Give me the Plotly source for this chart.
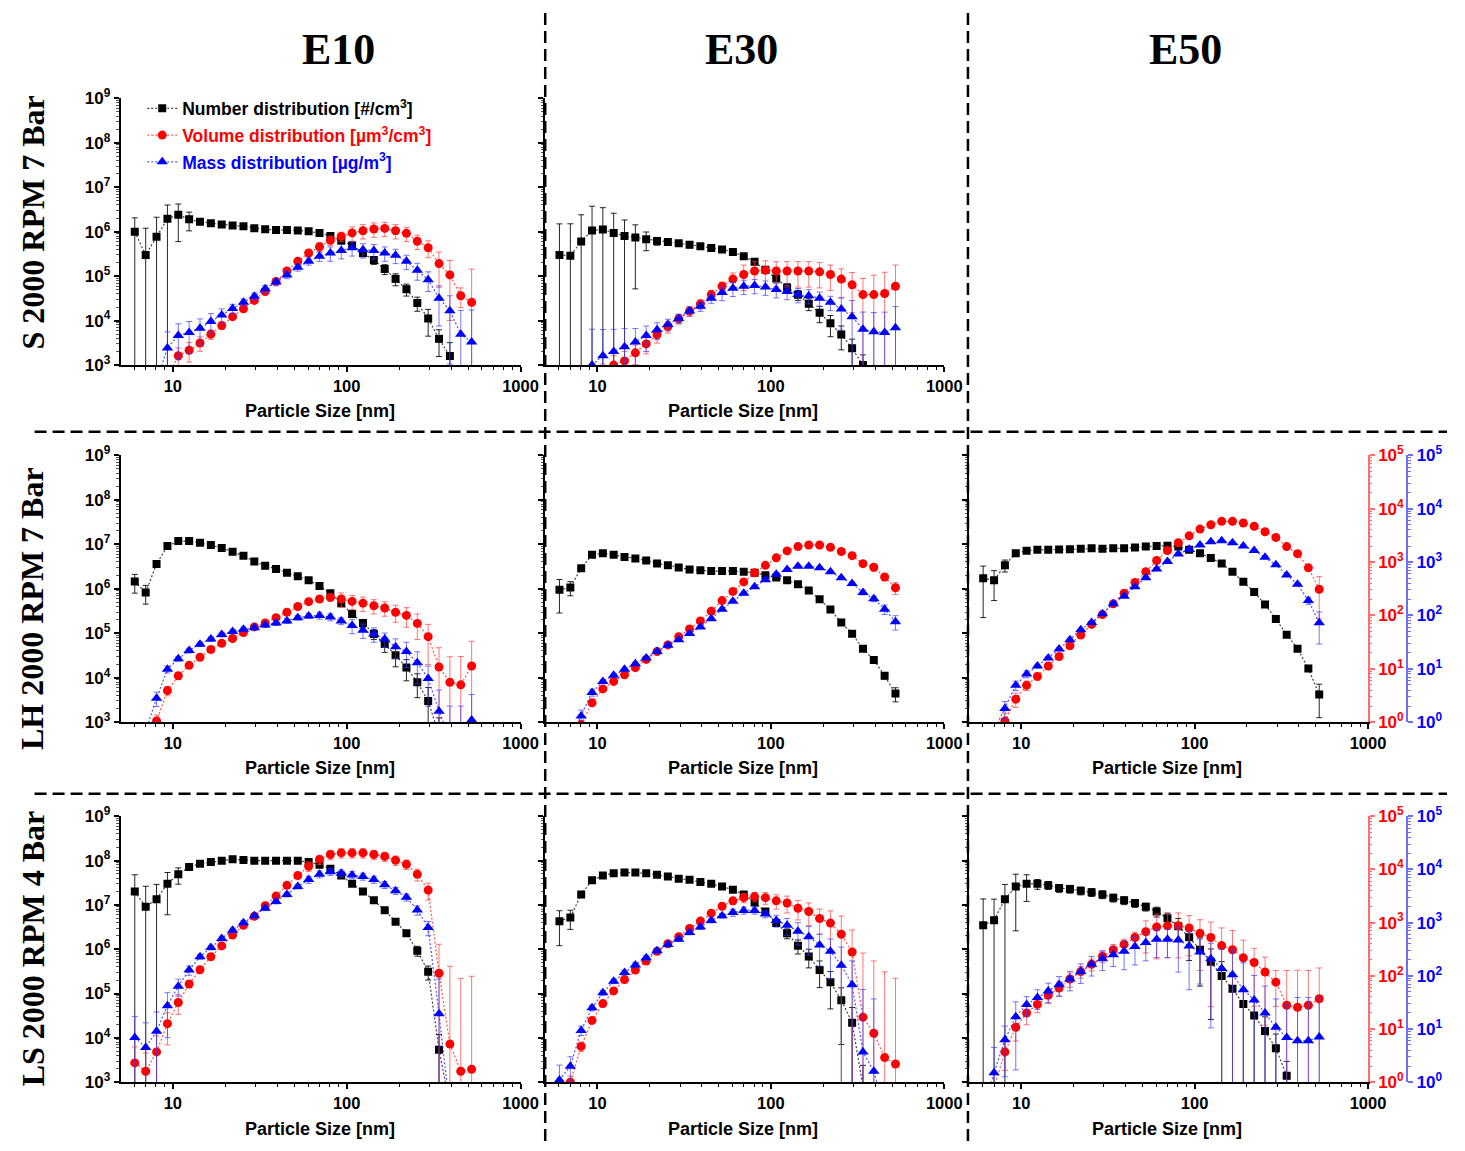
import numpy as np
import plotly.graph_objects as go

W, H = 1465, 1151

# SMPS size bins (nm), 16 channels per decade
sizes_nm = [6.04, 6.98, 8.06, 9.31, 10.75, 12.41, 14.33, 16.55, 19.11, 22.07,
            25.48, 29.43, 33.98, 39.24, 45.32, 52.33, 60.43, 69.78, 80.58, 93.06,
            107.46, 124.09, 143.30, 165.48, 191.09, 220.67, 254.83, 294.27, 339.82, 392.42,
            453.16, 523.30]

column_titles = ["E10", "E30", "E50"]
row_titles = ["S 2000 RPM 7 Bar", "LH 2000 RPM 7 Bar", "LS 2000 RPM 4 Bar"]
x_title = "Particle Size [nm]"
series_names = ["Number distribution [#/cm<sup>3</sup>]",
                "Volume distribution [µm<sup>3</sup>/cm<sup>3</sup>]",
                "Mass distribution [µg/m<sup>3</sup>]"]

# ---- S 2000 RPM 7 Bar, E10 ----
num_S_E10 = [1.0e6, 3.0e5, 7.7e5, 1.95e6, 2.4e6, 1.9e6, 1.67e6, 1.55e6, 1.45e6, 1.38e6,
             1.32e6, 1.2e6, 1.13e6, 1.1e6, 1.1e6, 1.07e6, 1.02e6, 9.3e5, 8.0e5, 6.3e5,
             4.9e5, 3.3e5, 2.3e5, 1.45e5, 8.7e4, 5.1e4, 2.5e4, 1.12e4, 3.9e3, 1.6e3,
             None, None]
num_rel_S_E10 = [1.05, 3.0, 1.75, 1.05, 0.75, 0.45, 0.12, 0.06, 0.06, 0.06,
                 0.06, 0.06, 0.06, 0.06, 0.06, 0.06, 0.06, 0.06, 0.06, 0.1,
                 0.12, 0.15, 0.2, 0.25, 0.3, 0.3, 0.35, 0.6, 0.6, 1.0,
                 0, 0]
vol_S_E10 = [None, None, None, 0.6, 1.5, 1.9, 2.6, 3.8, 5.5, 8.1,
             11.4, 16.3, 24, 37, 58, 88, 126, 165, 218, 258,
             300, 330, 355, 365, 330, 295, 210, 158, 80, 49,
             20, 15]
vol_rel_S_E10 = [0, 0, 0, 0.5, 0.4, 0.4, 0.3, 0.2, 0.15, 0.12,
                 0.12, 0.12, 0.12, 0.12, 0.12, 0.12, 0.12, 0.2, 0.2, 0.2,
                 0.3, 0.3, 0.3, 0.3, 0.3, 0.3, 0.3, 0.35, 0.64, 0.86,
                 0.4, 3.2]
mass_S_E10 = [None, None, 0.5, 2.1, 3.6, 4.1, 4.9, 6.6, 8.7, 11.5,
              15, 19.5, 27, 36, 49, 68, 88, 110, 126, 140,
              158, 145, 140, 126, 114, 88, 60, 40, 18, 10.5,
              3.8, 2.7]
mass_rel_S_E10 = [0, 0, 0.5, 1.0, 0.65, 0.6, 0.5, 0.4, 0.3, 0.2,
                  0.15, 0.15, 0.15, 0.15, 0.15, 0.15, 0.15, 0.2, 0.3, 0.3,
                  0.3, 0.3, 0.3, 0.3, 0.3, 0.3, 0.35, 0.4, 0.7, 0.9,
                  1.8, 3.0]

# ---- S 2000 RPM 7 Bar, E30 ----
num_S_E30 = [3.0e5, 2.9e5, 6.0e5, 1.07e6, 1.12e6, 9.3e5, 8.0e5, 7.4e5, 6.8e5, 6.2e5,
             5.9e5, 5.5e5, 5.1e5, 4.7e5, 4.3e5, 4.0e5, 3.5e5, 2.8e5, 2.1e5, 1.4e5,
             8.9e4, 5.6e4, 3.8e4, 2.4e4, 1.5e4, 8.7e3, 4.9e3, 2.4e3, 1.0e3, 4.0e2,
             None, None]
num_rel_S_E30 = [4.0, 4.2, 3.0, 2.5, 2.1, 1.8, 1.3, 0.93, 0.45, 0.2,
                 0.15, 0.15, 0.15, 0.15, 0.15, 0.15, 0.15, 0.15, 0.12, 0.12,
                 0.15, 0.2, 0.25, 0.3, 0.4, 0.5, 0.55, 0.6, 0.7, 0.8,
                 0, 0]
vol_S_E30 = [None, None, None, None, 0.7, 1.0, 1.2, 1.7, 2.5, 3.7,
             5.3, 7.4, 10.3, 14, 21, 30, 41, 50, 58, 60,
             58, 58, 58, 58, 56, 50, 41, 32, 21, 21,
             22, 30]
vol_rel_S_E30 = [0, 0, 0, 0, 0.5, 0.5, 0.5, 0.4, 0.35, 0.3,
                 0.25, 0.2, 0.2, 0.2, 0.2, 0.2, 0.3, 0.5, 0.5, 0.5,
                 0.5, 0.5, 0.5, 0.5, 0.5, 0.5, 0.55, 0.7, 1.0, 1.3,
                 1.5, 1.5]
mass_S_E30 = [None, None, 0.6, 1.0, 1.5, 1.8, 2.2, 2.7, 3.6, 4.6,
              5.8, 7.5, 10.3, 12.7, 18, 23, 27.5, 30, 31, 29,
              26, 24, 21, 20, 18, 15, 11.3, 8.1, 4.7, 4.2,
              4.1, 5.0]
mass_rel_S_E30 = [0, 0, 0.5, 3.7, 2.1, 1.6, 1.2, 0.8, 0.5, 0.35,
                  0.25, 0.2, 0.2, 0.2, 0.2, 0.3, 0.3, 0.3, 0.3, 0.3,
                  0.3, 0.3, 0.3, 0.3, 0.3, 0.3, 0.6, 1.0, 1.1, 1.3,
                  1.4, 1.5]

# ---- LH 2000 RPM 7 Bar, E10 ----
num_LH_E10 = [1.45e6, 8.2e5, 3.6e6, 9.1e6, 1.18e7, 1.18e7, 1.08e7, 9.6e6, 8.3e6, 6.8e6,
              5.5e6, 4.1e6, 3.3e6, 2.8e6, 2.3e6, 1.9e6, 1.56e6, 1.15e6, 7.9e5, 4.7e5,
              2.7e5, 1.7e5, 9.6e4, 5.7e4, 3.2e4, 1.7e4, 7.9e3, 3.0e3, 5.0e2, None,
              None, None]
num_rel_LH_E10 = [0.45, 0.45, 0.15, 0.05, 0.04, 0.04, 0.04, 0.04, 0.04, 0.04,
                  0.04, 0.04, 0.04, 0.04, 0.04, 0.04, 0.04, 0.06, 0.08, 0.1,
                  0.12, 0.2, 0.25, 0.35, 0.45, 0.5, 0.55, 1.0, 1.5, 0,
                  0, 0]
vol_LH_E10 = [None, 0.5, 1.05, 3.9, 7.4, 11.6, 16.5, 23, 30, 37,
              48, 61, 72, 91, 115, 147, 181, 203, 218, 203,
              183, 170, 152, 138, 115, 100, 71, 40, 10.8, 5.6,
              5.0, 11.3]
vol_rel_LH_E10 = [0, 0, 0.3, 0.2, 0.15, 0.1, 0.1, 0.1, 0.1, 0.1,
                  0.1, 0.1, 0.1, 0.1, 0.12, 0.12, 0.12, 0.12, 0.15, 0.3,
                  0.3, 0.3, 0.3, 0.3, 0.35, 0.4, 0.5, 0.7, 1.3, 2.0,
                  2.4, 1.9]
mass_LH_E10 = [None, 0.7, 2.8, 9.8, 15.4, 22, 29, 36, 44, 50,
               55, 59, 66, 72, 79, 91, 98, 100, 93, 79,
               65, 53, 45, 36, 26, 21, 13, 6.6, 1.6, 0.5,
               0.5, 1.1]
mass_rel_LH_E10 = [0, 0, 0.3, 0.15, 0.1, 0.1, 0.1, 0.1, 0.1, 0.1,
                   0.1, 0.1, 0.1, 0.1, 0.1, 0.1, 0.1, 0.15, 0.15, 0.15,
                   0.3, 0.3, 0.3, 0.3, 0.4, 0.5, 0.6, 0.7, 1.5, 3.0,
                   3.0, 2.0]

# ---- LH 2000 RPM 7 Bar, E30 ----
num_LH_E30 = [9.5e5, 1.07e6, 2.9e6, 5.8e6, 6.3e6, 5.8e6, 5.2e6, 4.8e6, 4.3e6, 3.7e6,
              3.4e6, 3.0e6, 2.7e6, 2.6e6, 2.5e6, 2.5e6, 2.5e6, 2.4e6, 2.3e6, 2.0e6,
              1.8e6, 1.55e6, 1.26e6, 9.1e5, 5.8e5, 3.4e5, 1.74e5, 9.7e4, 4.5e4, 2.5e4,
              1.1e4, 4.4e3]
num_rel_LH_E30 = [0.7, 0.35, 0.06, 0.03, 0.03, 0.03, 0.03, 0.03, 0.03, 0.03,
                  0.03, 0.03, 0.03, 0.03, 0.03, 0.03, 0.03, 0.03, 0.03, 0.03,
                  0.03, 0.03, 0.03, 0.03, 0.03, 0.03, 0.03, 0.03, 0.05, 0.1,
                  0.15, 0.35]
vol_LH_E30 = [None, None, 0.9, 2.3, 4.2, 5.8, 7.7, 10.5, 15, 21,
              28, 40, 56, 79, 120, 190, 282, 425, 630, 870,
              1200, 1620, 1950, 2090, 2090, 1900, 1580, 1320, 935, 800,
              525, 330]
vol_rel_LH_E30 = [0, 0, 0.2, 0.1, 0.06, 0.06, 0.06, 0.06, 0.06, 0.06,
                  0.06, 0.06, 0.06, 0.06, 0.06, 0.06, 0.06, 0.06, 0.06, 0.06,
                  0.06, 0.06, 0.06, 0.06, 0.06, 0.06, 0.06, 0.06, 0.06, 0.15,
                  0.15, 0.25]
mass_LH_E30 = [None, 0.5, 1.3, 3.6, 5.8, 7.6, 9.8, 12.5, 16, 21,
               27.5, 35, 46, 61, 87, 130, 185, 260, 345, 465,
               590, 725, 835, 835, 780, 660, 510, 395, 270, 205,
               130, 76]
mass_rel_LH_E30 = [0, 0, 0.3, 0.15, 0.06, 0.06, 0.06, 0.06, 0.06, 0.06,
                   0.06, 0.06, 0.06, 0.06, 0.06, 0.06, 0.06, 0.06, 0.06, 0.06,
                   0.06, 0.06, 0.06, 0.06, 0.06, 0.06, 0.06, 0.06, 0.1, 0.12,
                   0.2, 0.3]

# ---- LH 2000 RPM 7 Bar, E50 ----
num_LH_E50 = [1.73e6, 1.55e6, 3.4e6, 6.3e6, 7.2e6, 7.5e6, 7.5e6, 7.6e6, 7.7e6, 7.9e6,
              8.1e6, 7.9e6, 8.1e6, 8.1e6, 8.5e6, 8.9e6, 9.2e6, 9.3e6, 8.9e6, 7.5e6,
              6.3e6, 4.9e6, 3.7e6, 2.4e6, 1.44e6, 8.5e5, 4.4e5, 2.1e5, 9.3e4, 4.5e4,
              1.6e4, 4.2e3]
num_rel_LH_E50 = [0.87, 0.65, 0.3, 0.1, 0.04, 0.04, 0.04, 0.04, 0.04, 0.04,
                  0.04, 0.04, 0.04, 0.04, 0.04, 0.04, 0.04, 0.04, 0.04, 0.04,
                  0.04, 0.04, 0.04, 0.04, 0.04, 0.04, 0.04, 0.04, 0.04, 0.04,
                  0.12, 0.7]
vol_LH_E50 = [None, 0.5, 1.05, 2.7, 4.9, 7.2, 11.3, 17, 27, 43,
              68, 104, 165, 260, 415, 660, 1070, 1650, 2300, 3100,
              4150, 5000, 5800, 5800, 5400, 4700, 3700, 2900, 1950, 1440,
              780, 310]
vol_rel_LH_E50 = [0, 0, 0.4, 0.3, 0.2, 0.15, 0.05, 0.05, 0.05, 0.05,
                  0.05, 0.05, 0.05, 0.05, 0.05, 0.05, 0.05, 0.05, 0.05, 0.05,
                  0.05, 0.05, 0.05, 0.05, 0.05, 0.05, 0.05, 0.05, 0.05, 0.06,
                  0.1, 0.72]
mass_LH_E50 = [None, 0.7, 1.8, 4.9, 8.0, 11.3, 16, 23.5, 35, 54,
               74, 108, 165, 230, 345, 510, 745, 1030, 1410, 1740,
               2100, 2400, 2500, 2300, 2000, 1650, 1230, 890, 575, 385,
               190, 73]
mass_rel_LH_E50 = [0, 0, 0.35, 0.2, 0.15, 0.08, 0.05, 0.05, 0.05, 0.05,
                   0.05, 0.05, 0.05, 0.05, 0.05, 0.05, 0.05, 0.05, 0.05, 0.05,
                   0.05, 0.05, 0.05, 0.05, 0.05, 0.05, 0.05, 0.05, 0.05, 0.06,
                   0.15, 0.6]

# ---- LS 2000 RPM 4 Bar, E10 ----
num_LS_E10 = [2.0e7, 9.1e6, 1.35e7, 3.0e7, 4.9e7, 7.2e7, 8.5e7, 9.3e7, 1.0e8, 1.07e8,
              1.03e8, 1.0e8, 9.9e7, 1.0e8, 1.0e8, 9.9e7, 9.3e7, 8.1e7, 6.6e7, 4.6e7,
              3.0e7, 2.0e7, 1.27e7, 7.6e6, 4.2e6, 2.3e6, 9.3e5, 3.1e5, 5.4e3, 3.0e2,
              None, None]
num_rel_LS_E10 = [1.4, 1.9, 1.15, 0.8, 0.4, 0.08, 0.04, 0.04, 0.04, 0.04,
                  0.04, 0.04, 0.04, 0.04, 0.04, 0.04, 0.04, 0.04, 0.04, 0.04,
                  0.04, 0.06, 0.08, 0.1, 0.12, 0.15, 0.25, 0.35, 1.2, 0,
                  0, 0]
vol_LS_E10 = [2.3, 1.6, 3.7, 12.6, 31.5, 70, 130, 228, 365, 585,
              895, 1320, 2080, 3160, 5030, 7700, 11500, 15500, 19100, 20500,
              20500, 20500, 19100, 17600, 14900, 12500, 8100, 4100, 112, 5.2,
              1.6, 1.75]
vol_rel_LS_E10 = [1.0, 1.2, 1.0, 0.6, 0.4, 0.15, 0.1, 0.08, 0.08, 0.08,
                  0.08, 0.08, 0.08, 0.08, 0.08, 0.08, 0.2, 0.2, 0.2, 0.2,
                  0.2, 0.2, 0.2, 0.2, 0.2, 0.2, 0.25, 0.35, 2.5, 28,
                  55, 55]
mass_LS_E10 = [6.9, 4.5, 9.1, 27.5, 64, 128, 228, 340, 505, 720,
               1000, 1350, 1870, 2500, 3400, 4780, 6450, 8150, 9100, 8500,
               7900, 7400, 6450, 5150, 4000, 3000, 1730, 810, 19.3, 0.3,
               None, None]
mass_rel_LS_E10 = [1.5, 1.9, 1.3, 0.75, 0.35, 0.2, 0.1, 0.1, 0.1, 0.1,
                   0.1, 0.1, 0.1, 0.1, 0.1, 0.1, 0.15, 0.15, 0.15, 0.15,
                   0.15, 0.15, 0.15, 0.15, 0.15, 0.15, 0.2, 0.3, 3.5, 0,
                   0, 0]

# ---- LS 2000 RPM 4 Bar, E30 ----
num_LS_E30 = [4.3e6, 5.2e6, 1.73e7, 3.6e7, 4.6e7, 5.2e7, 5.4e7, 5.4e7, 5.2e7, 4.8e7,
              4.4e7, 3.9e7, 3.7e7, 3.3e7, 3.0e7, 2.6e7, 2.2e7, 1.73e7, 1.13e7, 7.1e6,
              3.9e6, 2.3e6, 1.2e6, 6.9e5, 3.4e5, 1.8e5, 7.1e4, 2.2e4, 8.0e2, None,
              None, None]
num_rel_LS_E30 = [0.72, 0.46, 0.05, 0.03, 0.03, 0.03, 0.03, 0.03, 0.03, 0.03,
                  0.03, 0.03, 0.03, 0.03, 0.03, 0.03, 0.03, 0.03, 0.05, 0.08,
                  0.15, 0.25, 0.35, 0.45, 0.6, 0.75, 0.9, 1.2, 2.0, 0,
                  0, 0]
vol_LS_E30 = [0.5, 1.0, 4.7, 14.5, 30, 52, 85, 128, 190, 290,
              400, 545, 775, 1070, 1510, 2040, 2570, 2950, 3090, 2950,
              2570, 2340, 1870, 1620, 1200, 980, 605, 280, 16.7, 8.3,
              2.9, 2.2]
vol_rel_LS_E30 = [0, 0.3, 0.2, 0.12, 0.1, 0.1, 0.1, 0.1, 0.1, 0.1,
                  0.1, 0.1, 0.1, 0.1, 0.1, 0.1, 0.15, 0.2, 0.2, 0.25,
                  0.3, 0.35, 0.4, 0.45, 0.5, 0.7, 1.2, 1.6, 15, 22,
                  40, 40]
mass_LS_E30 = [1.1, 2.0, 9.4, 25, 48, 79, 115, 160, 218, 295,
               390, 490, 655, 830, 1100, 1350, 1550, 1700, 1700, 1450,
               1100, 890, 690, 545, 380, 290, 158, 68, 3.7, 1.6,
               0.3, None]
mass_rel_LS_E30 = [0.9, 0.5, 0.2, 0.12, 0.1, 0.1, 0.1, 0.1, 0.1, 0.1,
                   0.1, 0.1, 0.1, 0.1, 0.1, 0.1, 0.15, 0.15, 0.15, 0.15,
                   0.25, 0.35, 0.45, 0.55, 0.6, 0.7, 1.2, 1.8, 14, 22,
                   0, 0]

# ---- LS 2000 RPM 4 Bar, E50 ----
num_LS_E50 = [3.5e6, 4.5e6, 1.35e7, 2.6e7, 3.0e7, 3.0e7, 2.8e7, 2.4e7, 2.3e7, 2.1e7,
              1.94e7, 1.73e7, 1.45e7, 1.27e7, 1.1e7, 9.1e6, 7.1e6, 5.0e6, 3.3e6, 1.86e6,
              9.8e5, 5.2e5, 2.5e5, 1.28e5, 5.8e4, 3.2e4, 1.42e4, 5.8e3, 1.4e3, 3.0e2,
              None, None]
num_rel_LS_E50 = [2.9, 2.0, 1.15, 0.9, 0.6, 0.25, 0.2, 0.2, 0.2, 0.2,
                  0.2, 0.2, 0.2, 0.2, 0.2, 0.2, 0.25, 0.3, 0.5, 0.7,
                  0.85, 0.95, 1.1, 1.1, 1.1, 1.1, 1.1, 1.1, 1.1, 0,
                  0, 0]
vol_LS_E50 = [None, 0.8, 3.7, 10.8, 20, 29, 43, 59, 87, 120,
              165, 234, 310, 390, 525, 675, 830, 870, 870, 795,
              630, 525, 370, 310, 218, 178, 118, 76, 28, 25.5,
              28, 37]
vol_rel_LS_E50 = [0, 0.8, 0.55, 0.45, 0.4, 0.3, 0.3, 0.3, 0.3, 0.25,
                  0.25, 0.25, 0.25, 0.25, 0.25, 0.6, 0.75, 0.75, 0.75, 0.7,
                  0.8, 0.95, 1.15, 1.3, 1.15, 0.85, 0.9, 0.65, 3.5, 4.0,
                  3.5, 2.8]
mass_LS_E50 = [0.3, 1.5, 6.3, 17, 29, 39, 52, 69, 87, 120,
               165, 210, 250, 290, 355, 425, 490, 490, 470, 365,
               280, 210, 138, 105, 55, 35, 20, 10.8, 6.9, 6.0,
               6.0, 7.1]
mass_rel_LS_E50 = [0, 2.0, 0.8, 0.9, 0.4, 0.4, 0.4, 0.4, 0.4, 0.4,
                   0.4, 0.4, 0.4, 0.55, 0.55, 0.55, 0.55, 0.55, 0.75, 0.85,
                   0.75, 0.95, 1.3, 1.95, 2.2, 1.9, 2.2, 2.4, 3.2, 5.5,
                   5.5, 4.6]

# grid cell (row, col) -> series for that panel; (0, 2) has no measurement
panels = {
    (0, 0): (num_S_E10, num_rel_S_E10, vol_S_E10, vol_rel_S_E10, mass_S_E10, mass_rel_S_E10),
    (0, 1): (num_S_E30, num_rel_S_E30, vol_S_E30, vol_rel_S_E30, mass_S_E30, mass_rel_S_E30),
    (1, 0): (num_LH_E10, num_rel_LH_E10, vol_LH_E10, vol_rel_LH_E10, mass_LH_E10, mass_rel_LH_E10),
    (1, 1): (num_LH_E30, num_rel_LH_E30, vol_LH_E30, vol_rel_LH_E30, mass_LH_E30, mass_rel_LH_E30),
    (1, 2): (num_LH_E50, num_rel_LH_E50, vol_LH_E50, vol_rel_LH_E50, mass_LH_E50, mass_rel_LH_E50),
    (2, 0): (num_LS_E10, num_rel_LS_E10, vol_LS_E10, vol_rel_LS_E10, mass_LS_E10, mass_rel_LS_E10),
    (2, 1): (num_LS_E30, num_rel_LS_E30, vol_LS_E30, vol_rel_LS_E30, mass_LS_E30, mass_rel_LS_E30),
    (2, 2): (num_LS_E50, num_rel_LS_E50, vol_LS_E50, vol_rel_LS_E50, mass_LS_E50, mass_rel_LS_E50),
}

# ---------------- layout geometry (pixels) ----------------
SANS = "Liberation Sans, Arial, sans-serif"
SERIF = "Liberation Serif, Times New Roman, serif"
col_px = [(122, 527), (552, 956), (981, 1385)]
row_px = [(88, 360), (452, 724), (820, 1091)]
BLUE_AXIS_X = 1425


def fx(x):
    return x / W


def fy(y):
    return 1 - y / H


def xname(n):
    return "x" if n == 1 else f"x{n}"


def yname(n):
    return "y" if n == 1 else f"y{n}"


def akey(letter, n):
    return f"{letter}axis" if n == 1 else f"{letter}axis{n}"


def sup_labels(exps):
    return [f"<b>10<sup>{e}</sup></b>" for e in exps]


x_minor = [m * 10 ** d for d in range(0, 3) for m in range(2, 10) if 5 < m * 10 ** d < 1000]
left_minor = [m * 10 ** d for d in range(3, 9) for m in range(2, 10)]
right_minor = [m * 10 ** d for d in range(0, 5) for m in range(2, 10)]

RED_AX = "rgba(255,60,60,0.75)"
BLUE_AX = "rgba(60,60,255,0.75)"

layout_axes = {}
for r in range(3):
    for c in range(3):
        i = r * 3 + c
        xn = i + 1
        yl, yr, yb = 3 * i + 1, 3 * i + 2, 3 * i + 3
        empty = (r, c) not in panels
        xdom = [fx(col_px[c][0]), fx(col_px[c][1])]
        ydom = [fy(row_px[r][1]), fy(row_px[r][0])]
        layout_axes[akey("x", xn)] = dict(
            domain=xdom, anchor=yname(yl), type="log", range=[np.log10(5), 3],
            visible=not empty, showline=True, linecolor="black", linewidth=1.5,
            ticks="outside", ticklen=5, tickwidth=1.5, tickcolor="black",
            tickvals=[10, 100, 1000], ticktext=["<b>10</b>", "<b>100</b>", "<b>1000</b>"],
            tickfont=dict(family=SANS, size=16.5, color="black"),
            minor=dict(ticks="outside", ticklen=3, tickwidth=1, tickcolor="black", tickvals=x_minor),
            showgrid=False, zeroline=False, fixedrange=True,
        )
        layout_axes[akey("y", yl)] = dict(
            domain=ydom, anchor=xname(xn), type="log", range=[3, 9],
            visible=not empty, showline=True, linecolor="black", linewidth=1.5,
            ticks="outside", ticklen=5, tickwidth=1.5, tickcolor="black",
            tickvals=[10 ** e for e in range(3, 10)], ticktext=sup_labels(range(3, 10)),
            showticklabels=(c == 0),
            tickfont=dict(family=SANS, size=17, color="black"),
            minor=dict(ticks="outside", ticklen=2.5, tickwidth=1, tickcolor="#555", tickvals=left_minor),
            showgrid=False, zeroline=False, fixedrange=True,
        )
        right_visible = c == 2
        layout_axes[akey("y", yr)] = dict(
            overlaying=yname(yl), anchor=xname(xn), side="right", type="log", range=[0, 5],
            visible=right_visible, showline=True, linecolor=RED_AX, linewidth=1.5,
            ticks="outside", ticklen=5, tickwidth=1.5, tickcolor=RED_AX,
            tickvals=[10 ** e for e in range(0, 6)], ticktext=sup_labels(range(0, 6)),
            tickfont=dict(family=SANS, size=17, color="#ff0000"),
            minor=dict(ticks="outside", ticklen=2.5, tickwidth=1, tickcolor=RED_AX, tickvals=right_minor),
            showgrid=False, zeroline=False, fixedrange=True,
        )
        layout_axes[akey("y", yb)] = dict(
            overlaying=yname(yl), anchor="free", position=fx(BLUE_AXIS_X), side="right",
            type="log", range=[0, 5],
            visible=right_visible, showline=True, linecolor=BLUE_AX, linewidth=1.5,
            ticks="outside", ticklen=5, tickwidth=1.5, tickcolor=BLUE_AX,
            tickvals=[10 ** e for e in range(0, 6)], ticktext=sup_labels(range(0, 6)),
            tickfont=dict(family=SANS, size=17, color="#0000ff"),
            minor=dict(ticks="outside", ticklen=2.5, tickwidth=1, tickcolor=BLUE_AX, tickvals=right_minor),
            showgrid=False, zeroline=False, fixedrange=True,
        )

fig = go.Figure()


def abs_err(vals, rels):
    return [v * q if (v is not None) else 0 for v, q in zip(vals, rels)]


styles = [
    # marker symbol, size, marker colour, line colour, error colour, legend text colour
    ("square", 8, "#000000", "rgba(0,0,0,0.75)", "rgba(0,0,0,0.85)", "#000000"),
    ("circle", 9, "#ff0000", "rgba(255,40,40,0.8)", "rgba(255,60,60,0.7)", "#ff0000"),
    ("triangle-up", 10, "#0000ff", "rgba(40,40,255,0.8)", "rgba(60,60,255,0.7)", "#0000ff"),
]

for (r, c), series in panels.items():
    i = r * 3 + c
    xn = i + 1
    yaxes = [yname(3 * i + 1), yname(3 * i + 2), yname(3 * i + 3)]
    for s in range(3):
        vals, rels = series[2 * s], series[2 * s + 1]
        sym, msize, mcol, lcol, ecol, tcol = styles[s]
        fig.add_trace(go.Scatter(
            x=sizes_nm, y=vals, xaxis=xname(xn), yaxis=yaxes[s],
            mode="lines+markers",
            line=dict(color=lcol, width=1.2, dash="2px,2px"),
            marker=dict(symbol=sym, size=msize, color=mcol, line=dict(width=0)),
            error_y=dict(type="data", array=abs_err(vals, rels), color=ecol, thickness=1, width=3),
            name=f'<span style="color:{tcol}"><b>{series_names[s]}</b></span>',
            legendgroup=f"g{s}", showlegend=(r == 0 and c == 0),
        ))

annotations = []
for c, (t, xc) in enumerate(zip(column_titles, [343, 751, 1200])):
    annotations.append(dict(x=fx(xc), y=fy(38), xref="paper", yref="paper", text=f"<b>{t}</b>",
                            showarrow=False, font=dict(family=SERIF, size=44, color="black"),
                            xanchor="center", yanchor="middle"))
for t, yc in zip(row_titles, [215, 608, 955]):
    annotations.append(dict(x=fx(33), y=fy(yc), xref="paper", yref="paper", text=f"<b>{t}</b>",
                            showarrow=False, textangle=-90, font=dict(family=SERIF, size=32, color="black"),
                            xanchor="center", yanchor="middle"))
for r, yc in enumerate([407, 771, 1139]):
    for c, xc in enumerate([324, 752, 1182]):
        if (r, c) in panels:
            annotations.append(dict(x=fx(xc), y=fy(yc), xref="paper", yref="paper",
                                    text=f"<b>{x_title}</b>", showarrow=False,
                                    font=dict(family=SANS, size=18, color="black"),
                                    xanchor="center", yanchor="middle"))

# dashed separators between the panels
DASH = dict(color="black", width=2.5, dash="12px,6px")
shapes = [
    dict(type="line", xref="paper", yref="paper", x0=fx(552), x1=fx(552), y0=0, y1=1, line=DASH),
    dict(type="line", xref="paper", yref="paper", x0=fx(980), x1=fx(980), y0=0, y1=1, line=DASH),
    dict(type="line", xref="paper", yref="paper", x0=fx(35), x1=1, y0=fy(428), y1=fy(428), line=DASH),
    dict(type="line", xref="paper", yref="paper", x0=fx(35), x1=1, y0=fy(797), y1=fy(797), line=DASH),
]

fig.update_layout(
    width=W, height=H, margin=dict(l=0, r=0, t=0, b=0),
    paper_bgcolor="white", plot_bgcolor="rgba(0,0,0,0)",
    showlegend=True,
    legend=dict(x=fx(144), y=fy(80), xanchor="left", yanchor="top",
                bgcolor="rgba(0,0,0,0)", borderwidth=0, tracegroupgap=1,
                font=dict(family=SANS, size=17.5, color="black")),
    annotations=annotations, shapes=shapes,
    **layout_axes,
)

fig.write_html("out.html")
